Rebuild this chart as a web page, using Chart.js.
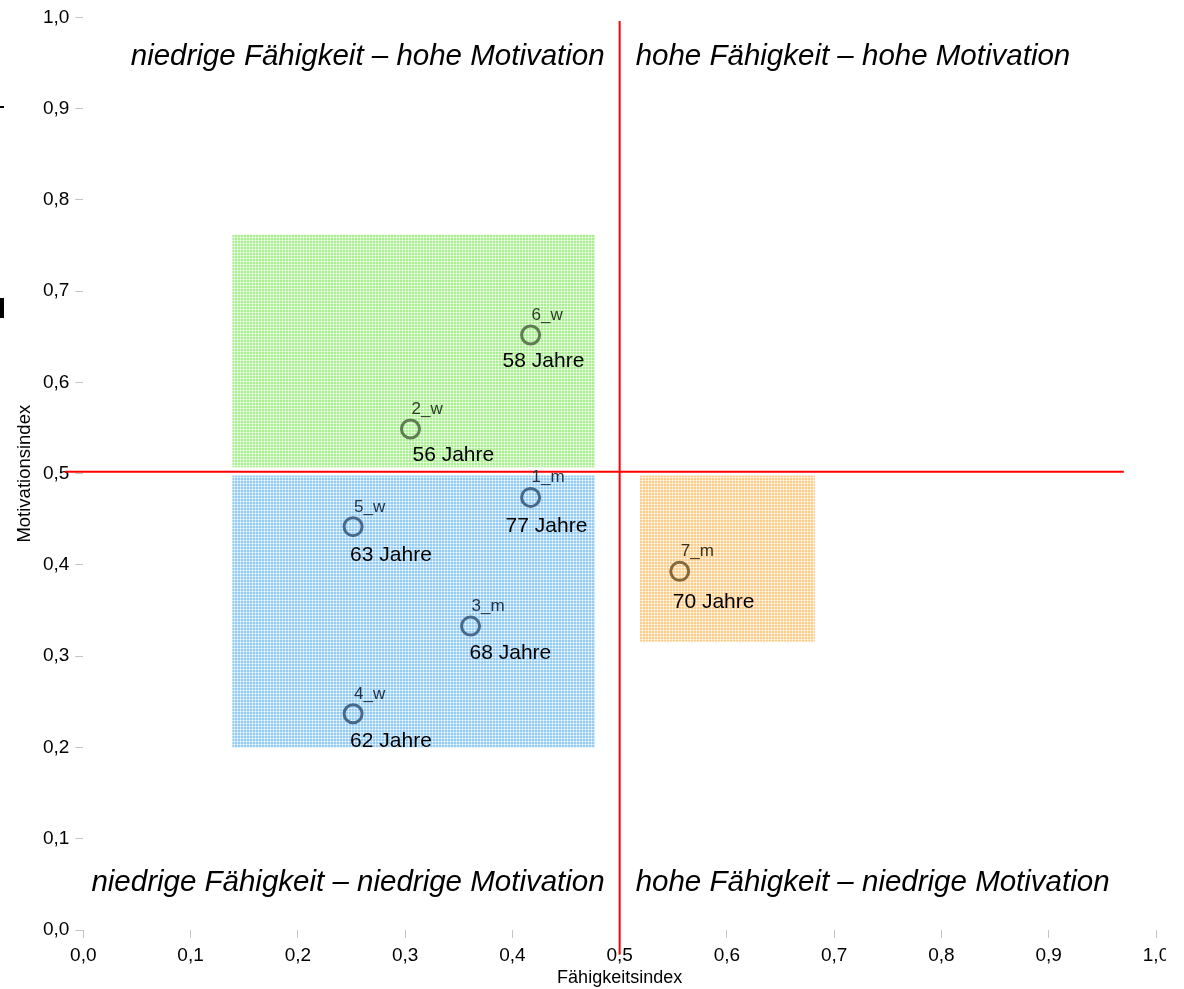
<!DOCTYPE html>
<html><head><meta charset="utf-8">
<script src="https://cdn.jsdelivr.net/npm/chart.js@4"></script>
<style>
html,body{margin:0;padding:0;background:#fff;overflow:hidden}
#wrap{position:relative;width:1166px;height:989px;overflow:hidden}
#c{display:block}
.mk{position:absolute;background:#000}
</style></head><body>
<div id="wrap"><canvas id="c" width="1184" height="989"></canvas>
<div class="mk" style="left:0;top:106px;width:4px;height:2px"></div>
<div class="mk" style="left:0;top:298px;width:4px;height:20px"></div>
</div>
<script>
const FONT = "'Liberation Sans', Arial, Helvetica, sans-serif";

// ---- data ----
const tickValues = [0, 0.1, 0.2, 0.3, 0.4, 0.5, 0.6, 0.7, 0.8, 0.9, 1.0];
const pointIds = ['6_w', '2_w', '1_m', '5_w', '3_m', '4_w', '7_m'];
const pointAges = ['58 Jahre', '56 Jahre', '77 Jahre', '63 Jahre', '68 Jahre', '62 Jahre', '70 Jahre'];
const faehigkeit = [0.417, 0.305, 0.417, 0.2515, 0.361, 0.2515, 0.556];
const motivation = [0.652, 0.549, 0.474, 0.442, 0.333, 0.237, 0.393];
const pointGroup = ['g', 'g', 'b', 'b', 'b', 'b', 'o'];

const boxGroup = ['g', 'b', 'o'];
const boxX0 = [0.139, 0.139, 0.519];
const boxX1 = [0.477, 0.477, 0.682];
const boxY0 = [0.507, 0.200, 0.316];
const boxY1 = [0.762, 0.498, 0.498];

const quadTexts = ['niedrige Fähigkeit – hohe Motivation', 'hohe Fähigkeit – hohe Motivation',
                   'niedrige Fähigkeit – niedrige Motivation', 'hohe Fähigkeit – niedrige Motivation'];
const quadY = [0.957, 0.957, 0.052, 0.052];
const quadSide = ['left', 'right', 'left', 'right'];

const refVX = [0.5, 0.5], refVY = [0.996, -0.027];
const refHX = [-0.017, 0.970], refHY = [0.502, 0.502];

// ---- styles ----
const ringColor = {g: '#5e7d52', b: '#46698a', o: '#86693a'};
const nameColor = {g: '#2c3d26', b: '#1f3247', o: '#3d3019'};
const boxColors = {
  g: ['rgb(172,238,148)', 'rgb(210,249,196)'],
  b: ['rgb(150,204,244)', 'rgb(198,229,251)'],
  o: ['rgb(252,206,142)', 'rgb(254,230,194)']
};
const ageDx = [-28, 2, -25, -3, -1, -3, -7];
const ageDy = [32, 32, 35, 34, 33, 33, 37];

function makePattern(ctx, base, light) {
  const p = document.createElement('canvas');
  p.width = 3; p.height = 3;
  const c = p.getContext('2d');
  c.fillStyle = base; c.fillRect(0, 0, 3, 3);
  c.fillStyle = light; c.fillRect(0, 0, 3, 1); c.fillRect(0, 0, 1, 3);
  c.fillStyle = 'rgba(255,255,255,0.9)'; c.fillRect(0, 0, 1, 1);
  return ctx.createPattern(p, 'repeat');
}

const fmt = v => (Math.round(v * 10) / 10).toFixed(1).replace('.', ',');

const boxesPlugin = {
  id: 'boxes',
  beforeDatasetsDraw(chart) {
    const {ctx, scales: {x, y}} = chart;
    ctx.save();
    for (let i = 0; i < boxGroup.length; i++) {
      const c = boxColors[boxGroup[i]];
      ctx.fillStyle = makePattern(ctx, c[0], c[1]);
      const px0 = x.getPixelForValue(boxX0[i]), px1 = x.getPixelForValue(boxX1[i]);
      const py0 = y.getPixelForValue(boxY0[i]), py1 = y.getPixelForValue(boxY1[i]);
      ctx.fillRect(px0, py1, px1 - px0, py0 - py1);
    }
    ctx.restore();
  }
};

const textPlugin = {
  id: 'texts',
  afterDatasetsDraw(chart) {
    const {ctx, scales: {x, y}} = chart;
    ctx.save();
    ctx.font = 'italic 29.5px ' + FONT;
    ctx.fillStyle = '#000';
    ctx.textBaseline = 'middle';
    const cx = x.getPixelForValue(0.5);
    for (let i = 0; i < quadTexts.length; i++) {
      const py = y.getPixelForValue(quadY[i]);
      if (quadSide[i] === 'left') { ctx.textAlign = 'right'; ctx.fillText(quadTexts[i], cx - 15, py); }
      else { ctx.textAlign = 'left'; ctx.fillText(quadTexts[i], cx + 16, py); }
    }
    const meta = chart.getDatasetMeta(2);
    ctx.textAlign = 'left';
    ctx.textBaseline = 'alphabetic';
    meta.data.forEach((el, i) => {
      ctx.font = '17px ' + FONT;
      ctx.fillStyle = nameColor[pointGroup[i]];
      ctx.fillText(pointIds[i], el.x + 1, el.y - 15);
      ctx.font = '21px ' + FONT;
      ctx.fillStyle = '#000';
      ctx.fillText(pointAges[i], el.x + ageDx[i], el.y + ageDy[i]);
    });
    ctx.restore();
  }
};

const commonGrid = {drawOnChartArea: false, drawTicks: true, tickLength: 8, color: '#c4c4c4', lineWidth: 1};

new Chart(document.getElementById('c'), {
  type: 'scatter',
  data: {
    datasets: [
      {data: refVX.map((v, i) => ({x: v, y: refVY[i]})), showLine: true, borderColor: '#ff0000', borderWidth: 2, pointRadius: 0, clip: false},
      {data: refHX.map((v, i) => ({x: v, y: refHY[i]})), showLine: true, borderColor: '#ff0000', borderWidth: 2, pointRadius: 0, clip: false},
      {data: faehigkeit.map((v, i) => ({x: v, y: motivation[i]})),
       pointRadius: 9, pointBorderWidth: 3, pointBackgroundColor: 'rgba(0,0,0,0)',
       pointBorderColor: pointGroup.map(g => ringColor[g]), pointHoverRadius: 9, clip: false}
    ]
  },
  options: {
    responsive: false,
    animation: false,
    events: [],
    layout: {padding: {top: 14.5, right: 28, bottom: 0, left: 0}},
    plugins: {legend: {display: false}, tooltip: {enabled: false}},
    scales: {
      x: {
        type: 'linear', min: 0, max: 1,
        afterBuildTicks: s => { s.ticks = tickValues.map(v => ({value: v})); },
        afterFit: s => { s.height = 59; },
        grid: commonGrid, border: {display: false},
        ticks: {font: {family: FONT, size: 19}, color: '#000', padding: 6, maxRotation: 0, autoSkip: false, callback: fmt},
        title: {display: true, text: 'Fähigkeitsindex', font: {family: FONT, size: 18}, color: '#000', padding: {top: 0, bottom: 0}}
      },
      y: {
        type: 'linear', min: 0, max: 1,
        afterBuildTicks: s => { s.ticks = tickValues.map(v => ({value: v})); },
        afterFit: s => { s.width = 83.3; },
        grid: commonGrid, border: {display: false},
        ticks: {font: {family: FONT, size: 19}, color: '#000', padding: 6, autoSkip: false, callback: fmt},
        title: {display: true, text: 'Motivationsindex', font: {family: FONT, size: 18.5}, color: '#000', padding: {top: 14, bottom: 0}}
      }
    }
  },
  plugins: [boxesPlugin, textPlugin]
});
</script>
</body></html>
